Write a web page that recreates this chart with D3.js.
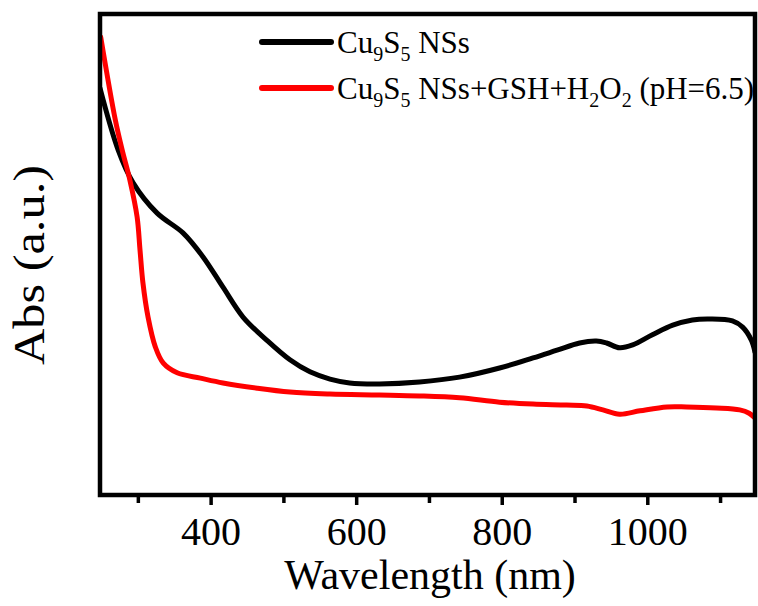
<!DOCTYPE html>
<html><head><meta charset="utf-8">
<script src="https://cdn.jsdelivr.net/npm/d3@7"></script>
<style>body{margin:0;background:#fff}svg{display:block}</style>
</head><body>
<svg id="c" width="758" height="606"></svg>
<script>
// ---- data ----
const wlBlack  = [248,273,293.5,326.5,362,389.6,417,444.5,477,509,536.5,564,591,632,687,742,797,843,876,907,930,944,962,980,1007,1035,1062,1086,1117,1131,1143,1148];
const absBlack = [0.846,0.717,0.649,0.586,0.545,0.495,0.432,0.370,0.322,0.281,0.256,0.241,0.233,0.231,0.235,0.245,0.264,0.285,0.301,0.316,0.320,0.316,0.306,0.312,0.333,0.353,0.364,0.366,0.362,0.349,0.322,0.297];
const wlRed    = [249,269,278.5,289,299,303,307,314,324,335,354,386,417,464,509,564,632,687,742,797,843,889,917,939,962,990,1027,1054,1095,1127,1140,1148];
const absRed   = [0.952,0.780,0.717,0.655,0.578,0.509,0.441,0.370,0.308,0.274,0.254,0.243,0.233,0.222,0.214,0.210,0.208,0.206,0.202,0.193,0.189,0.187,0.185,0.177,0.168,0.175,0.183,0.183,0.181,0.177,0.170,0.160];
const majorTicks = [400,600,800,1000];
const minorTicks = [300,500,700,900,1100];
const seriesColors = ["#000000","#ff0000"];
const xTitle = "Wavelength (nm)";
const yTitle = "Abs (a.u.)";

const svg = d3.select("#c");
const L=100, R=755, T=14, B=495;
const font = "'Liberation Serif','Times New Roman',serif";
const x = d3.scaleLinear().domain([248,1148]).range([L,R]);
const y = d3.scaleLinear().domain([0,1]).range([B,T]);

svg.append("clipPath").attr("id","clip").append("rect")
  .attr("x",L).attr("y",T).attr("width",R-L).attr("height",B-T);

const line = d3.line().x(d=>x(d[0])).y(d=>y(d[1])).curve(d3.curveCatmullRom.alpha(0.5));
const series = [d3.zip(wlBlack,absBlack), d3.zip(wlRed,absRed)];
svg.append("g").attr("clip-path","url(#clip)").selectAll("path").data(series).join("path")
  .attr("d",line).attr("fill","none").attr("stroke",(d,i)=>seriesColors[i])
  .attr("stroke-width",5).attr("stroke-linejoin","round").attr("stroke-linecap","round");

// ticks
const gMinor = svg.append("g").attr("transform",`translate(0,${B})`)
  .call(d3.axisBottom(x).tickValues(minorTicks).tickSize(8).tickFormat(""));
const gMajor = svg.append("g").attr("transform",`translate(0,${B})`)
  .call(d3.axisBottom(x).tickValues(majorTicks).tickSize(10).tickPadding(12).tickFormat(d3.format("d")));
[gMinor,gMajor].forEach(g=>{
  g.select(".domain").remove();
  g.selectAll(".tick line").attr("stroke","#000").attr("stroke-width",3.5);
});
gMajor.selectAll(".tick text").attr("font-family",font).attr("font-size",40).attr("fill","#000");

// frame
svg.append("rect").attr("x",L).attr("y",T).attr("width",R-L).attr("height",B-T)
  .attr("fill","none").attr("stroke","#000").attr("stroke-width",4.5);

// titles
svg.append("text").attr("x",430).attr("y",589).attr("text-anchor","middle")
  .attr("font-family",font).attr("font-size",42).text(xTitle);
svg.append("text").attr("transform","translate(44,265) rotate(-90)").attr("text-anchor","middle")
  .attr("font-family",font).attr("font-size",44)
  .attr("textLength",200).attr("lengthAdjust","spacingAndGlyphs").text(yTitle);

// legend
const legendRows = [
  [["Cu",0],["9",1],["S",0],["5",1],[" NSs",0]],
  [["Cu",0],["9",1],["S",0],["5",1],[" NSs+GSH+H",0],["2",1],["O",0],["2",1],[" (pH=6.5)",0]]
];
const legY = [42, 88];
legendRows.forEach((row,i)=>{
  svg.append("line").attr("x1",262).attr("x2",331).attr("y1",legY[i]).attr("y2",legY[i])
    .attr("stroke",seriesColors[i]).attr("stroke-width",6).attr("stroke-linecap","round");
  const t = svg.append("text").attr("x",337).attr("y",legY[i]+11)
    .attr("font-family",font).attr("font-size",31).attr("fill","#000");
  let prevSub=false;
  row.forEach(([str,sub])=>{
    const ts = t.append("tspan").text(str);
    if(sub){ ts.attr("font-size",20).attr("dy", prevSub?0:8); }
    else { ts.attr("dy", prevSub?-8:0); }
    prevSub = !!sub;
  });
});
</script>
</body></html>
